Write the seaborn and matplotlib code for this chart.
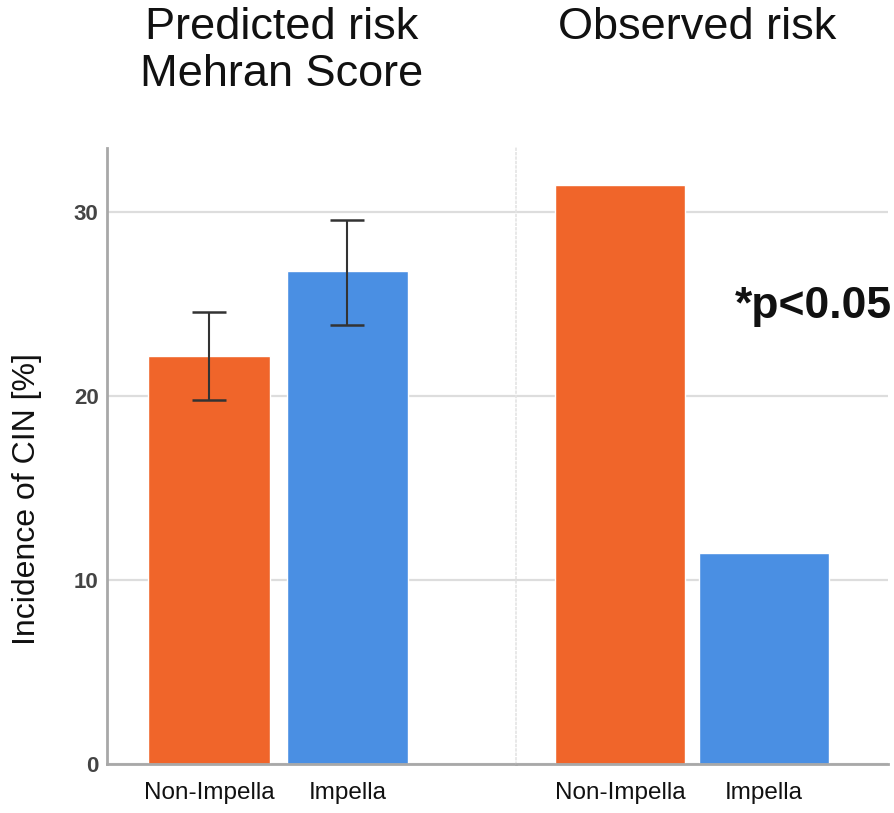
import numpy as np
import pandas as pd
import matplotlib
matplotlib.use('Agg')
import matplotlib.pyplot as plt
import seaborn as sns

# ── DATA ─────────────────────────────────────────────────────────────────────
groups = ['Non-Impella', 'Impella']
predicted = [22.2, 26.8]
predicted_low = [19.8, 23.9]
predicted_high = [24.6, 29.6]
observed = [31.5, 11.5]
yticks = [0, 10, 20, 30]

ORANGE = '#F0652A'
BLUE = '#4A8FE3'
GRID = '#DDDDDD'
SPINE = '#A8A8A8'

sns.set_theme(style='white')
plt.rcParams['font.family'] = ['Liberation Sans', 'DejaVu Sans']

fig = plt.figure(figsize=(8.94, 8.13), dpi=100)
ax1 = fig.add_axes([107/894, 49/813, 409/894, 616/813])
ax2 = fig.add_axes([516/894, 49/813, 372/894, 616/813], sharey=ax1)

pred_df = pd.DataFrame({'group': groups, 'value': predicted})
obs_df = pd.DataFrame({'group': groups, 'value': observed})

sns.barplot(data=pred_df, x='group', y='value', hue='group', order=groups,
            palette=[ORANGE, BLUE], width=0.88, errorbar=None, legend=False,
            saturation=1, ax=ax1)
sns.barplot(data=obs_df, x='group', y='value', hue='group', order=groups,
            palette=[ORANGE, BLUE], width=0.9, errorbar=None, legend=False,
            saturation=1, ax=ax2)

# error bars for predicted risk
pos = np.arange(len(groups))
pv = np.array(predicted)
yerr = [pv - np.array(predicted_low), np.array(predicted_high) - pv]
ax1.errorbar(pos, pv, yerr=yerr, fmt='none', ecolor='#333333',
             elinewidth=1.5, capsize=12, capthick=1.8, zorder=5)

for ax in (ax1, ax2):
    ax.set_ylim(0, 33.5)
    ax.set_yticks(yticks)
    ax.yaxis.grid(True, color=GRID, lw=1.6)
    ax.set_axisbelow(True)
    ax.set_xlabel('')
    ax.set_ylabel('')
    ax.spines['top'].set_visible(False)
    ax.spines['right'].set_visible(False)
    ax.spines['bottom'].set_color(SPINE)
    ax.spines['bottom'].set_linewidth(2)
    ax.tick_params(axis='x', length=0, pad=13)
    ax.tick_params(axis='y', length=0, pad=6)
    for lab in ax.get_xticklabels():
        lab.set_fontsize(17.5)
        lab.set_color('#111111')

ax1.set_xlim(-0.74, 2.22)
ax2.set_xlim(-0.72, 1.86)

ax1.spines['left'].set_color(SPINE)
ax1.spines['left'].set_linewidth(2)
for lab in ax1.get_yticklabels():
    lab.set_fontsize(16)
    lab.set_color('#444444')
    lab.set_fontweight('bold')
ax1.set_ylabel('Incidence of CIN [%]', fontsize=23, color='#111111')
ax1.yaxis.set_label_coords(-0.16, 0.43)

ax2.spines['left'].set_color('#E4E4E4')
ax2.spines['left'].set_linestyle(':')
ax2.spines['left'].set_linewidth(1.2)
ax2.tick_params(axis='y', labelleft=False)

fig.text(282/894, 1 - 7/813, 'Predicted risk\nMehran Score', ha='center',
         va='top', fontsize=32.5, linespacing=1.2, color='#111111')
fig.text(697/894, 1 - 7/813, 'Observed risk', ha='center', va='top',
         fontsize=32.5, color='#111111')
fig.text(892/894, 1 - 306/813, '*p<0.05', ha='right', va='center',
         fontsize=32, fontweight='bold', color='#111111')

plt.savefig('out.png', dpi=100)
plt.close()
